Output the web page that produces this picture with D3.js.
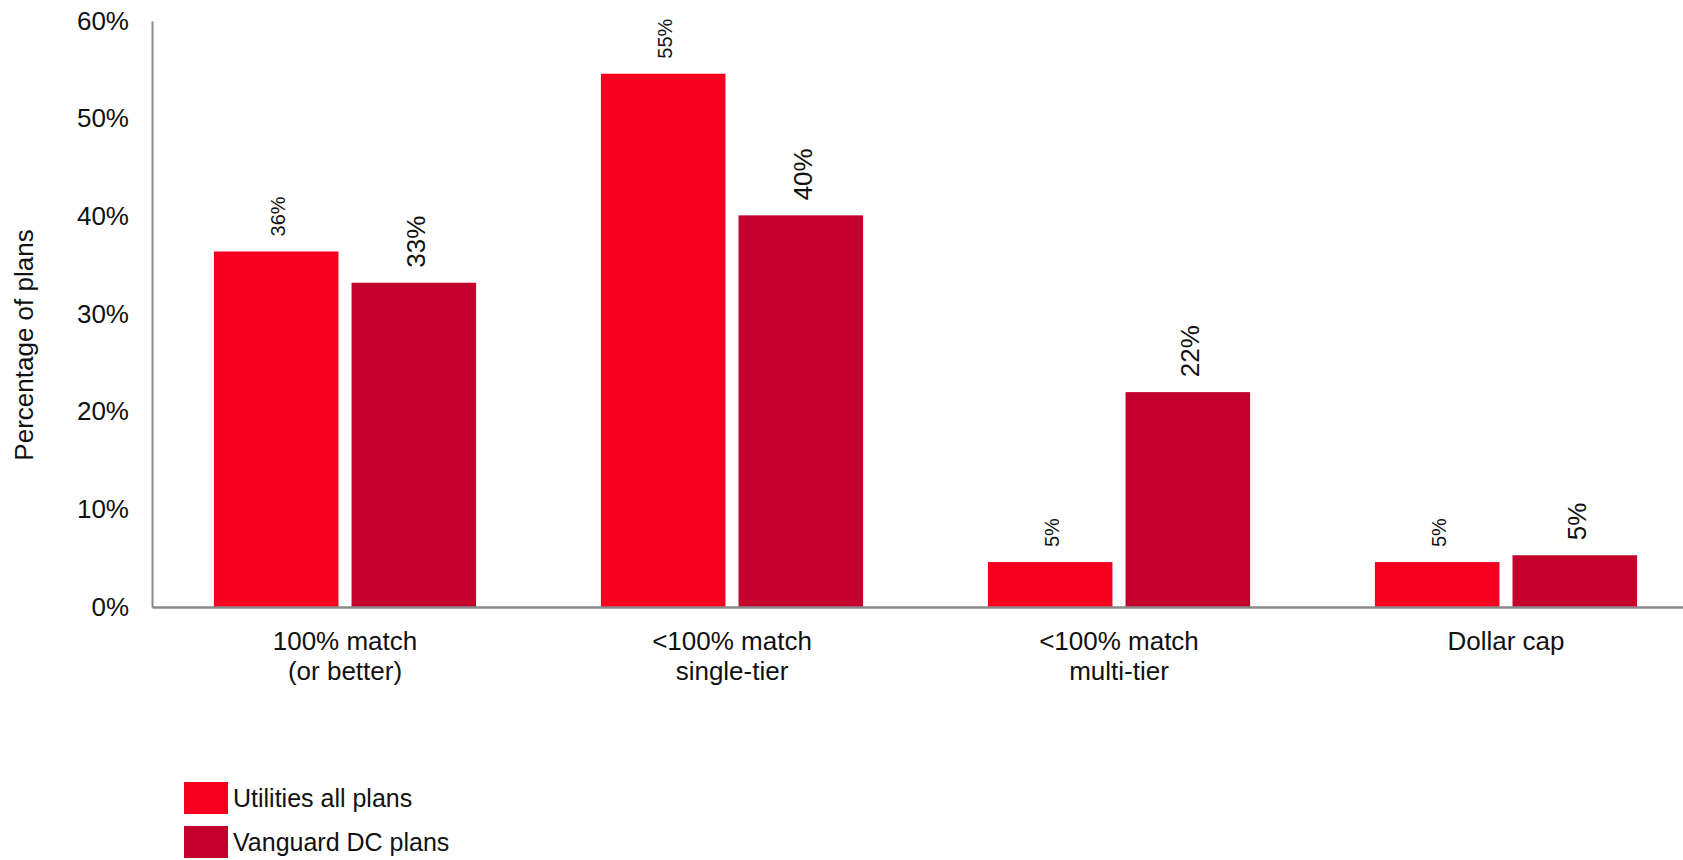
<!DOCTYPE html>
<html>
<head>
<meta charset="utf-8">
<script src="https://cdn.jsdelivr.net/npm/d3@7"></script>
<style>
  html, body { margin: 0; padding: 0; background: #ffffff; }
  svg { display: block; font-family: "Liberation Sans", Arial, sans-serif; }
</style>
</head>
<body>
<svg id="chart" width="1683" height="860"></svg>
<script>
// Employer match formula categories (each label split into lines)
const categories = ["100% match (or better)", "<100% match single-tier", "<100% match multi-tier", "Dollar cap"];
const categoryLines = [["100% match", "(or better)"], ["<100% match", "single-tier"], ["<100% match", "multi-tier"], ["Dollar cap"]];

// Series
const seriesNames = ["Utilities all plans", "Vanguard DC plans"];
const utilitiesValues = [0.364, 0.546, 0.046, 0.046];
const vanguardValues  = [0.332, 0.401, 0.220, 0.053];
const seriesColors = ["#f5001f", "#c4002d"];

// Y axis ticks
const yTicks = [0, 0.1, 0.2, 0.3, 0.4, 0.5, 0.6];
const yTitle = "Percentage of plans";

const svg = d3.select("#chart");
const fmt = d3.format(".0%");

const y = d3.scaleLinear().domain([0, 0.6]).range([607, 21]);
const x0 = d3.scaleBand().domain(categories).range([152, 1699])
  .paddingInner(0.3225).paddingOuter(0.16);
const x1 = d3.scaleBand().domain(seriesNames).range([0, x0.bandwidth()])
  .paddingInner(0.095).paddingOuter(0);
const color = d3.scaleOrdinal().domain(seriesNames).range(seriesColors);

const seriesValues = [utilitiesValues, vanguardValues];
const rows = categories.map((c, i) => ({
  category: c,
  values: seriesNames.map((s, j) => ({ series: s, value: seriesValues[j][i], idx: j }))
}));

// Bars
const groups = svg.append("g").selectAll("g")
  .data(rows).join("g")
  .attr("transform", d => `translate(${x0(d.category)},0)`);

groups.selectAll("rect")
  .data(d => d.values).join("rect")
  .attr("x", d => x1(d.series))
  .attr("y", d => y(d.value))
  .attr("width", x1.bandwidth())
  .attr("height", d => y(0) - y(d.value))
  .attr("fill", d => color(d.series));

// Value labels, rotated, above each bar
groups.selectAll("text")
  .data(d => d.values).join("text")
  .attr("transform", d => `translate(${x1(d.series) + x1.bandwidth() / 2 + 2},${y(d.value) - 15}) rotate(-90)`)
  .attr("dy", "0.35em")
  .attr("text-anchor", "start")
  .attr("font-size", d => d.idx === 0 ? 20 : 26)
  .attr("fill", "#111")
  .text(d => fmt(d.value));

// Y axis
const yAxis = svg.append("g")
  .attr("transform", "translate(152,0)")
  .call(d3.axisLeft(y).tickValues(yTicks).tickFormat(fmt).tickSize(0).tickSizeOuter(0).tickPadding(23));
yAxis.select(".domain").attr("stroke", "#8a8a8a").attr("stroke-width", 2);
yAxis.selectAll(".tick text")
  .attr("font-size", 26)
  .attr("font-family", "Liberation Sans, Arial, sans-serif")
  .attr("fill", "#111");

// X axis
const xAxis = svg.append("g")
  .attr("transform", `translate(0,${y(0)})`)
  .call(d3.axisBottom(x0).tickSize(0).tickSizeOuter(0).tickFormat(""));
xAxis.select(".domain").attr("stroke", "#8a8a8a").attr("stroke-width", 2.5);

const catLabels = svg.append("g").selectAll("text")
  .data(categories).join("text")
  .attr("x", d => x0(d) + x0.bandwidth() / 2)
  .attr("y", 650)
  .attr("text-anchor", "middle")
  .attr("font-size", 26)
  .attr("fill", "#111");
catLabels.selectAll("tspan")
  .data((d, i) => categoryLines[i]).join("tspan")
  .attr("x", function () { return d3.select(this.parentNode).attr("x"); })
  .attr("dy", (d, i) => i === 0 ? 0 : 30)
  .text(d => d);

// Y axis title
svg.append("text")
  .attr("transform", "translate(24,345) rotate(-90)")
  .attr("dy", "0.35em")
  .attr("text-anchor", "middle")
  .attr("font-size", 26)
  .attr("fill", "#111")
  .text(yTitle);

// Legend
const legend = svg.append("g").selectAll("g")
  .data(seriesNames).join("g")
  .attr("transform", (d, i) => `translate(184,${782 + i * 44})`);
legend.append("rect")
  .attr("width", 44).attr("height", 32)
  .attr("fill", d => color(d));
legend.append("text")
  .attr("x", 49).attr("y", 16)
  .attr("dy", "0.35em")
  .attr("font-size", 25)
  .attr("fill", "#111")
  .text(d => d);
</script>
</body>
</html>
